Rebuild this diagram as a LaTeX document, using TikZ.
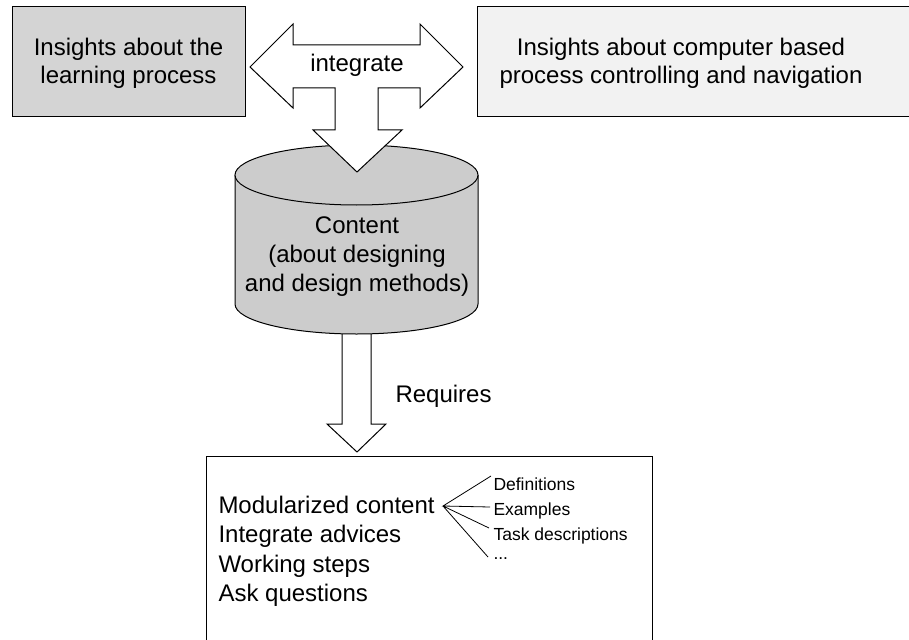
\documentclass[tikz,border=0pt]{standalone}
\usepackage{fontspec}
\setmainfont{Liberation Sans}
\definecolor{boxA}{RGB}{212,212,212}
\definecolor{boxB}{RGB}{242,242,242}
\definecolor{cylfill}{RGB}{204,204,204}
\begin{document}
\begin{tikzpicture}[x=1pt,y=-1pt,line width=1pt,
  big/.style={font=\fontsize{24}{27.6}\selectfont,inner sep=0pt},
  small/.style={font=\fontsize{17.5}{21}\selectfont,inner sep=0pt,anchor=base west},
  item/.style={font=\fontsize{24}{29}\selectfont,inner sep=0pt,anchor=base west},
  blockarrow/.style={draw,fill=white,line join=miter}]
\useasboundingbox (0,0) rectangle (909,639);
\clip (0,0) rectangle (909,639);
% top boxes
\draw[fill=boxA] (12,7) rectangle (245,117);
\node[big,align=center] (learn) at (128.5,63) {Insights about the\\learning process};
\draw[fill=boxB] (477,7) rectangle (915,117);
\node[big,align=center] (comp) at (681,63) {Insights about computer based\\process controlling and navigation};
% requires arrow (behind cylinder)
\draw[blockarrow] (342,300) -- (342,424) -- (327,424) -- (357,452) -- (386,424) -- (371,424) -- (371,300) -- cycle;
% cylinder
\fill[cylfill] (235,175) rectangle (478,304);
\fill[cylfill] (356.5,304) ellipse[x radius=121.5,y radius=30];
\draw (235,175) -- (235,304) arc[start angle=180,end angle=0,x radius=121.5,y radius=30] -- (478,175);
\draw[fill=cylfill] (356.5,175) ellipse[x radius=121.5,y radius=30];
\node[font=\fontsize{24}{29}\selectfont,inner sep=0pt,align=center] (content) at (357,257) {Content\\(about designing\\and design methods)};
% integrate arrow
\draw[blockarrow] (250,67) -- (293,24) -- (293,45) -- (420,45) -- (420,24) -- (463,67) -- (420,108) -- (420,88) -- (378,88) -- (378,130) -- (402,130) -- (357,172) -- (313,130) -- (335,130) -- (335,88) -- (293,88) -- (293,108) -- cycle;
\node[big,anchor=base] (integ) at (357,72) {integrate};
\node[big,anchor=base west] (req) at (395,402) {Requires};
% bottom box
\draw (206,456) rectangle (652,700);
\node[item] (mc) at (218,513) {Modularized content};
\node[item] (ia) at (218,542.5) {Integrate advices};
\node[item] (ws) at (218,572) {Working steps};
\node[item] (aq) at (218,601) {Ask questions};
\node[small] (def) at (493,490) {Definitions};
\node[small] (ex) at (493,515) {Examples};
\node[small] (task) at (493,540.5) {Task descriptions};
\node[small] (etc) at (493,559) {...};
\coordinate (fork) at (443,506);
\coordinate (e1) at (491,476);
\coordinate (e2) at (490,507);
\coordinate (e3) at (489,528);
\coordinate (e4) at (488,557);
\draw[line width=0.8pt] (e1) -- (fork) -- (e2) (fork) -- (e3) (fork) -- (e4);
\end{tikzpicture}
\end{document}
